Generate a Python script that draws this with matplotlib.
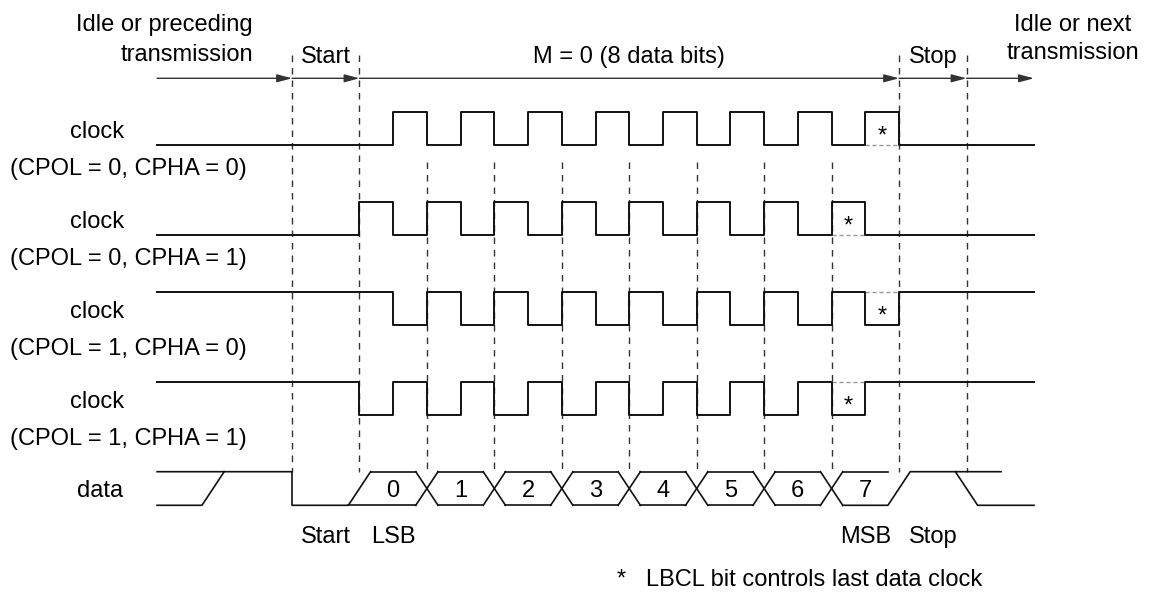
import numpy as np
import matplotlib.pyplot as plt

# frame layout in bit periods (0 = start of the start bit)
frame_edges = [-2, 0, 1, 9, 10, 11]
frame_names = ["Start", "M = 0 (8 data bits)", "Stop"]
frame_name_slots = [0, 1, 9]
frame_name_widths = [1, 8, 1]

# clock modes
clock_cpol = [0, 0, 1, 1]
clock_cpha = [0, 1, 0, 1]
clock_labels = ["(CPOL = 0, CPHA = 0)", "(CPOL = 0, CPHA = 1)",
                "(CPOL = 1, CPHA = 0)", "(CPOL = 1, CPHA = 1)"]

# data bits
data_bits = ["0", "1", "2", "3", "4", "5", "6", "7"]
bottom_labels = ["Start", "LSB", "MSB", "Stop"]
bottom_slots = [0, 1, 8, 9]

# pixel geometry of the reference
W, H = 1149, 592
X0, T = 292.0, 67.45           # x of t=0, width of one bit
ROW0, ROWSTEP, AMP = 145.3, 90.0, 33.6
h = 0.165                       # half width of a data transition

FONT = ['Liberation Sans', 'DejaVu Sans']
FS = 17
INK = '#111111'


def low(i):
    return ROW0 + ROWSTEP * i


def high(i):
    return low(i) - AMP


def tx(px):
    return (px - X0) / T


fig = plt.figure(figsize=(W / 100, H / 100), dpi=100)
ax = fig.add_axes([0, 0, 1, 1])
ax.set_xlim(tx(0), tx(W))
ax.set_ylim(H, 0)
ax.axis('off')

# top arrows
y_arr = 78.3
for a, b in zip(frame_edges[:-1], frame_edges[1:]):
    ax.annotate("", xy=(b, y_arr), xytext=(a, y_arr),
                arrowprops=dict(arrowstyle='-|>,head_length=0.45,head_width=0.12',
                                mutation_scale=20, color='#333333', lw=1.0,
                                shrinkA=0, shrinkB=0))

# header texts
ax.text(tx(253), 31, "Idle or preceding", ha='right', va='baseline', family=FONT, fontsize=FS)
ax.text(tx(253), 61, "transmission", ha='right', va='baseline', family=FONT, fontsize=FS)
ax.text(tx(1073), 31, "Idle or next", ha='center', va='baseline', family=FONT, fontsize=FS)
ax.text(tx(1073), 59, "transmission", ha='center', va='baseline', family=FONT, fontsize=FS)
for name, s, w in zip(frame_names, frame_name_slots, frame_name_widths):
    ax.text(s + w / 2, 63, name, ha='center', va='baseline', family=FONT, fontsize=FS)

# vertical dashed bit boundaries
for b in range(0, 11):
    top = 55 if b in (0, 1, 9, 10) else 161.7
    ax.plot([b, b], [top, high(4)], color='#333333', lw=1.0,
            dashes=(4.7, 4.3), zorder=1)

# clock rows
for i, (pol, pha) in enumerate(zip(clock_cpol, clock_cpha)):
    t = [frame_edges[0]]
    lv = [pol]
    for k in range(1, 9):
        a = k + 0.5 * (1 - pha)
        t += [a, a + 0.5]
        lv += [1 - pol, pol]
    t.append(frame_edges[-1])
    lv.append(pol)
    y = [low(i) - AMP * v for v in lv]
    ax.plot(t, y, drawstyle='steps-post', color=INK, lw=1.4, zorder=3)
    # last data clock may be suppressed (LBCL)
    a = 8 + 0.5 * (1 - pha)
    ax.plot([a, a + 0.5], [low(i) - AMP * pol] * 2, color='#999999', lw=1.0,
            dashes=(3, 2), zorder=2)
    ax.text(a + 0.25, low(i) - 3, "*", ha='center', va='baseline', family=FONT, fontsize=FS)
    ax.text(tx(97.5), low(i) - 7, "clock", ha='center', va='baseline', family=FONT, fontsize=FS)
    ax.text(tx(128), low(i) + 30, clock_labels[i], ha='center', va='baseline',
            family=FONT, fontsize=FS)

# data row
hi, lo = high(4), low(4)
kw = dict(color=INK, lw=1.2, zorder=3)
ax.plot([-2, 0, 0, 1 - h, 1 + h], [hi, hi, lo, lo, hi], **kw)
ax.plot([-2, -1.17 - h, -1.17 + h], [lo, lo, hi], **kw)
ax.plot([1 - h, 2 - h], [lo, lo], **kw)
for k in range(2, 9):
    ax.plot([k + h, k + 1 - h], [hi, hi], **kw)
    ax.plot([k - h, k + h], [hi, lo], **kw)
    ax.plot([k - h, k + h], [lo, hi], **kw)
for k in range(2, 8):
    ax.plot([k + h, k + 1 - h], [lo, lo], **kw)
ax.plot([8 + h, 9 - h, 9 + h, tx(1001)], [lo, lo, hi, hi], **kw)
ax.plot([1 + h, 2 - h], [hi, hi], **kw)
ax.plot([10 - h, 10 + h, frame_edges[-1]], [hi, lo, lo], **kw)
for k, bit in enumerate(data_bits):
    ax.text(k + 1.5, 497, bit, ha='center', va='baseline', family=FONT, fontsize=FS)
ax.text(tx(100), 497, "data", ha='center', va='baseline', family=FONT, fontsize=FS)

for lab, s in zip(bottom_labels, bottom_slots):
    ax.text(s + 0.5, 543, lab, ha='center', va='baseline', family=FONT, fontsize=FS)
ax.text(tx(617), 586, "*   LBCL bit controls last data clock", ha='left', va='baseline',
        family=FONT, fontsize=FS)

fig.savefig("out.png", dpi=100)
